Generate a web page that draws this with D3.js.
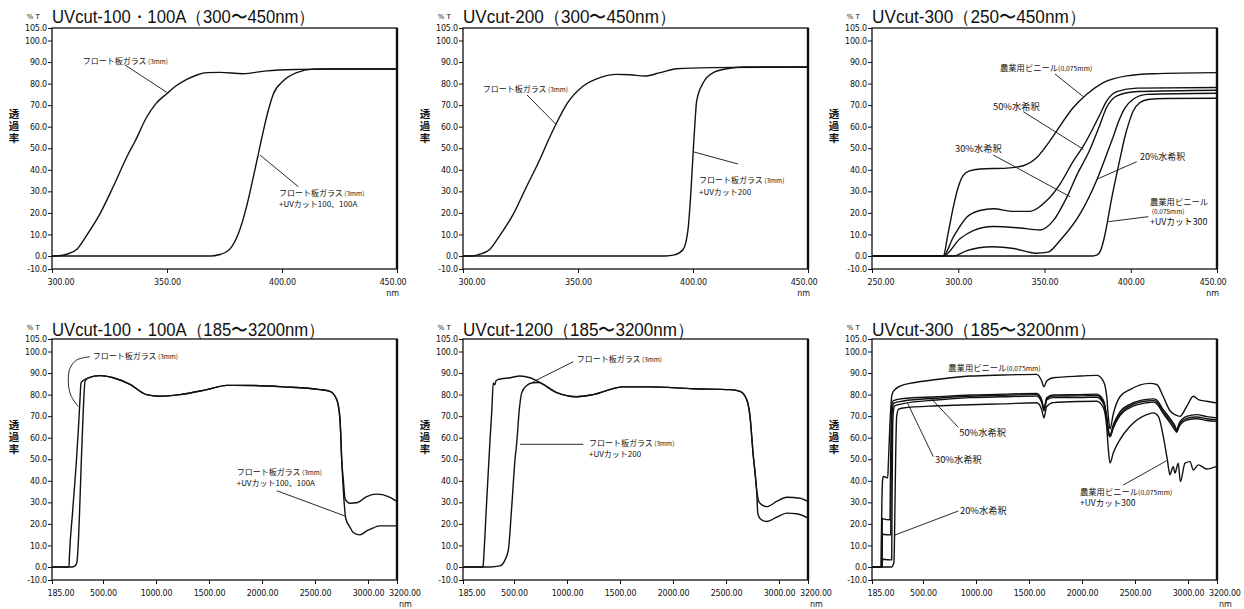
<!DOCTYPE html>
<html><head><meta charset="utf-8">
<script src="https://cdn.jsdelivr.net/npm/d3@7"></script>
<style>
body{margin:0;background:#fff;}
svg{display:block;}
</style></head><body>
<svg id="chart" width="1244" height="609"></svg>
<script>
// ---------------- DATA ----------------
const titles = [
  "UVcut-100・100A（300〜450nm）",
  "UVcut-200（300〜450nm）",
  "UVcut-300（250〜450nm）",
  "UVcut-100・100A（185〜3200nm）",
  "UVcut-1200（185〜3200nm）",
  "UVcut-300（185〜3200nm）"
];
const yTicks = [105,100,90,80,70,60,50,40,30,20,10,0,-10];
const xTicks300 = [300,350,400,450];
const xTicks250 = [250,300,350,400,450];
const xTicksWide = [185,500,1000,1500,2000,2500,3000,3200];

// Panel 1: UVcut-100/100A 300-450nm
const p1Float = [[300,0],[303,0.1],[306.4,0.8],[310.7,3],[315,9.5],[320.9,19.7],[326.5,31.9],[333,47],[336,53],[341.2,64.5],[345,70.5],[349.9,75.3],[354,79],[358.6,82],[363,84],[367.3,85.1],[373,85.2],[383,84.6],[393.3,85.9],[407.8,86.6],[420,86.8],[450,86.8]];
const p1UV = [[300,0],[368.7,0],[373,0.7],[377.4,3.3],[381,10.3],[384.7,23.4],[387.5,36.5],[389.7,47.3],[391.9,58.1],[394,67.4],[396.2,75.1],[400.6,81.3],[406.4,85.1],[413.6,86.7],[420,86.8],[450,86.8]];

// Panel 2: UVcut-200 300-450nm
const p2Float = [[300,0],[304,0],[307,0.7],[311.5,2.9],[316,9.5],[322,19.7],[327.5,31.9],[333.5,45],[337,53.5],[340.3,60.9],[345.1,70.5],[352.3,78.9],[359.6,82.8],[366.8,84.3],[372.6,84.1],[379.1,83.5],[385.7,85.1],[392.9,86.9],[407.4,87.4],[450,87.7]];
const p2UV = [[300,0],[388,0],[392,0.5],[395.7,3],[397.8,12],[399.1,30],[400.1,48.8],[400.9,62.7],[401.6,72],[404.5,80.5],[408.8,85.1],[414.7,86.9],[421.9,87.7],[450,87.7]];

// Panel 3: UVcut-300 250-450nm
const p3Vinyl = [[250,0],[291.3,0],[294,10],[297.1,22.6],[300,32],[303,37.5],[306.5,39.5],[312.6,40.4],[328.1,40.8],[337.7,41.9],[345.5,45.7],[353.2,53.5],[357.1,58.1],[366.7,68.9],[374.5,75.1],[384.1,80.5],[397.7,83.6],[413.1,84.6],[450,85.1]];
const p3Dil50 = [[250,0],[291.3,0],[297.1,8.7],[304.9,18],[312.6,21.1],[320.3,21.9],[331.9,20.7],[341.6,20.7],[351.3,25.7],[359,33.4],[366.7,44],[372.5,51],[376.4,56.6],[382.2,65.8],[386.1,72],[391.9,76.3],[403.5,77.9],[450,78.2]];
const p3Dil30 = [[250,0],[291.3,0],[301,8],[308.7,11.8],[320.3,13.7],[335.8,13],[347.4,12.1],[355.1,16.4],[362.9,27.2],[369,38],[376,48.8],[381.5,59.6],[386,68.9],[392,74.3],[404,76.3],[450,76.9]];
const p3Dil20 = [[250,0],[297,0],[305,2.5],[312,3.8],[320,4.3],[332,3.5],[345,1.3],[352,1.8],[359,7.2],[370.6,19.5],[380.3,35.3],[386.1,47.3],[389.9,55.5],[393,62.5],[396.5,68.5],[401,72.5],[409.3,75],[450,75.5]];
const p3UV = [[250,0],[378,0],[380.5,0.5],[382.5,2.5],[384.5,8],[389,27],[394,46],[396.5,55],[399,62],[401.5,67.4],[405,71],[410,72.6],[420,73.1],[450,73.2]];

// Panel 4: UVcut-100/100A 185-3200nm
const p4Float = [[185,0],[290,0],[292,4],[311.7,25],[336.4,50],[348.8,65],[358,78],[364.2,85.4],[376.6,86.5],[389,87],[409.3,87.8],[481.5,88.8],[597,87.8],[755,84.7],[912,80],[1038,79.2],[1226,80],[1478,82.3],[1667,84.3],[1918,84.2],[2201,83.6],[2547,82.3],[2641,81.5],[2705,77.7],[2736,68.4],[2752,49.8],[2767,40.5],[2785,31.5],[2830,29.6],[2893,29.8],[2988,32.7],[3060,33.8],[3140,32.7],[3200,30.4]];
const p4UV = [[185,0],[306.7,0],[327,0.5],[337.6,1.7],[343.8,6.4],[368.5,54],[378.4,73],[389,86.2],[409.3,87.8],[481.5,88.8],[597,87.8],[755,84.7],[912,80],[1038,79.2],[1226,80],[1478,82.3],[1667,84.3],[1918,84.2],[2201,83.6],[2547,82.3],[2641,81.5],[2705,77.7],[2736,68.4],[2752,49.8],[2775,30],[2790,22.5],[2830,18.5],[2861,16],[2924,14.9],[2988,16.8],[3014,17.5],[3083,19.1],[3200,19.1]];

// Panel 5: UVcut-1200 185-3200nm
const p5Float = [[185,0],[309,0],[311,2],[331,30],[351.9,59],[362.4,72],[372.3,85.4],[380,84.5],[390,86.5],[403.2,87],[475.5,87.8],[556.6,88.6],[651,87.8],[776.4,84.7],[902.8,80.9],[1091.5,79],[1248,80],[1531,83.6],[1783,83.6],[2191.5,82.7],[2537.7,82.3],[2632,81.5],[2695,77.7],[2726.4,69.9],[2757.5,51.5],[2773.5,44],[2789.5,35.8],[2805,31],[2820.7,29.6],[2883.9,28],[2978.3,30.4],[3053,32.4],[3145,31.9],[3200,30.4]];
const p5UV = [[185,0],[351.9,0],[413.7,0.5],[444.6,3.3],[465,7.9],[486,28],[509.4,49.8],[525.5,57.5],[550,73],[572.6,80.8],[619.8,84.2],[680,85.5],[740,85.6],[776.4,84.7],[902.8,80.9],[1091.5,79],[1248,80],[1531,83.6],[1783,83.6],[2191.5,82.7],[2537.7,82.3],[2632,81.5],[2695,77.7],[2726.4,69.9],[2757.5,51.5],[2773.5,44],[2789.5,35],[2800,25],[2820.7,22.5],[2883.9,21.1],[2978.3,23.1],[3053,25],[3122,24.7],[3200,22.7]];

// Panel 6: UVcut-300 185-3200nm
const p6Vinyl = [[185,0],[240,0],[242,10],[246,30],[250,40],[254.8,42],[282,41.3],[286,48],[295,65],[303,76],[306.7,79.2],[316.6,81.5],[358,83.9],[440,85.5],[629,87],[943,88.6],[1258,89.1],[1573,89.4],[1620,86.3],[1641,83.6],[1667,86.3],[1729,87.8],[1981,88.6],[2139,88.9],[2201,86.3],[2233,79.3],[2248,70],[2264,64],[2295,71],[2358,79],[2453,82.3],[2550,84.5],[2641,85.2],[2705,84.7],[2767,79],[2830,72.5],[2877,70.7],[2924,69.9],[2988,74.5],[3037,79.2],[3071,77.7],[3129,76.9],[3200,76.1]];
const p6Dil50 = [[185,0],[246,0],[248.7,22.6],[254,22.3],[296.2,21.9],[298,35],[302,60],[306,74],[316.6,77.2],[378,78.2],[629,79],[943,79.8],[1258,80.2],[1573,80.5],[1620,77.5],[1641,73.5],[1667,78.5],[1729,79.8],[1981,80],[2139,80.2],[2201,77.5],[2233,70],[2248,64],[2264,61],[2295,66],[2358,72],[2453,75.5],[2610,77.8],[2672,78],[2705,77.5],[2767,73],[2830,69],[2877,65.5],[2893,63.7],[2917,66.8],[2988,69.9],[3060,70.7],[3129,69.8],[3200,69.2]];
const p6Dil30 = [[185,0],[247,0],[249.5,15.6],[254,15.2],[300.6,14.9],[302.5,35],[306,60],[310,72.5],[320,76],[378,77],[629,78.3],[943,79.2],[1258,79.7],[1573,80],[1620,77],[1641,73],[1667,78],[1729,79.3],[1981,79.4],[2139,79.6],[2201,76.8],[2233,69],[2248,63],[2264,60.6],[2295,65],[2358,71],[2453,74.8],[2610,77],[2672,77.2],[2705,76.6],[2767,72],[2830,68],[2877,64.5],[2893,63],[2917,66],[2988,69],[3060,69.6],[3129,68.8],[3200,68.4]];
const p6Dil20 = [[185,0],[248,0],[250,3.9],[254,3.6],[306.7,3.3],[309,30],[312,60],[316,71.5],[325,74.8],[378,75.8],[629,77.5],[943,78.6],[1258,79],[1573,79.3],[1620,76.3],[1641,72.5],[1667,77.5],[1729,78.6],[1981,78.6],[2139,78.8],[2201,76],[2233,68.5],[2248,62.5],[2264,60.4],[2295,64.5],[2358,70.3],[2453,74],[2610,76.2],[2672,76.5],[2705,75.8],[2767,71.2],[2830,67],[2877,63.5],[2893,62.5],[2917,65.2],[2988,68.2],[3060,68.8],[3129,68],[3200,67.6]];
const p6UV = [[185,0],[306.7,0],[316,1],[321,3],[327.1,30],[332,55],[337.6,70],[350,73.3],[378,73.8],[629,74.8],[943,75.3],[1258,75.7],[1573,76.2],[1620,73],[1641,69.2],[1667,74.5],[1729,76.3],[1981,76.8],[2139,76.9],[2201,74],[2233,65],[2248,55],[2264,48.2],[2295,52.9],[2358,59.1],[2453,65.3],[2610,70.7],[2672,71.5],[2720,69.9],[2767,60.6],[2805,49.8],[2830,42.8],[2846,45],[2861,46.7],[2877,43.6],[2908,48.2],[2928,39.7],[2972,48.2],[3014,48.9],[3037,45],[3071,47.4],[3129,45.5],[3200,46.7]];

// Annotation texts
const txtFloat = [["フロート板ガラス",8],[" (3mm)",6.5]];
const txtVinyl = [["農業用ビニール",8.3],["(0.075mm)",6.8]];
const yLabel = "透過率";

// ---------------- LAYOUT ----------------
const PW = 345, PH = 241;
const FONT_NUM = "'DejaVu Sans', sans-serif";
const FONT_JP = "'Noto Sans CJK JP', 'Noto Sans CJK SC', sans-serif";
const INK = "#111";

const panels = [
  {L:52, T:28, title:titles[0], titleW:263, titleY:-5, wide:false, xDomain:[300,450], xTicks:xTicks300,
   series:[p1Float,p1UV],
   labels:[{dx:30.7,dy:35.5,parts:txtFloat},{dx:227,dy:167.5,parts:txtFloat},{dx:227,dy:179,parts:[["+UVカット100、100A",8]]}],
   leaders:[[[73,37],[114.7,64.3]],[[208,127],[246.3,158.7]]]},
  {L:463, T:28, title:titles[1], titleW:213, titleY:-5, wide:false, xDomain:[300,450], xTicks:xTicks300,
   series:[p2Float,p2UV],
   labels:[{dx:19.7,dy:64,parts:txtFloat},{dx:236,dy:155,parts:txtFloat},{dx:236,dy:167,parts:[["+UVカット200",8]]}],
   leaders:[[[64,67],[92.7,96]],[[231,124],[275,136]]]},
  {L:872, T:28, title:titles[2], titleW:214, titleY:-5, wide:false, xDomain:[250,450], xTicks:xTicks250,
   series:[p3Vinyl,p3Dil50,p3Dil30,p3Dil20,p3UV],
   labels:[{dx:128,dy:42.5,parts:txtVinyl},{dx:121,dy:81.5,parts:[["50%水希釈",9.3]]},{dx:83,dy:123.8,parts:[["30%水希釈",9.3]]},
           {dx:268,dy:132,parts:[["20%水希釈",9]]},{dx:278,dy:176.5,parts:[["農業用ビニール",8.3]]},{dx:279.7,dy:185.5,parts:[["(0.075mm)",6.5]]},
           {dx:278,dy:196.5,parts:[["+UVカット300",8.8]]}],
   leaders:[[[183,46],[211.3,68.7]],[[151.3,83.7],[211.3,121.3]],[[121.3,127],[198,168.7]],[[264.7,133.7],[224.7,151.3]],[[276.3,188.7],[236.3,193.7]]]},
  {L:52, T:339, title:titles[3], titleW:273, titleY:-3, wide:true, xTicks:xTicksWide,
   series:[p4Float,p4UV],
   labels:[{dx:40.7,dy:19.8,parts:txtFloat},{dx:184.7,dy:136,parts:txtFloat},{dx:184.7,dy:147,parts:[["+UVカット100、100A",8]]}],
   leaders:[[[38,17.7],[24.7,21],[18,29.3],[16.3,42.7],[18.7,56],[26.3,67.7]],[[224.7,151.7],[293,177]]]},
  {L:463, T:339, title:titles[4], titleW:231, titleY:-3, wide:true, xTicks:xTicksWide,
   series:[p5Float,p5UV],
   labels:[{dx:113.7,dy:23,parts:txtFloat},{dx:126,dy:107,parts:txtFloat},{dx:126,dy:118,parts:[["+UVカット200",8]]}],
   leaders:[[[110.3,22.7],[70.3,42.7]],[[57,105.3],[120.3,105.3]]]},
  {L:872, T:339, title:titles[5], titleW:224, titleY:-3, wide:true, xTicks:xTicksWide,
   series:[p6Vinyl,p6Dil50,p6Dil30,p6Dil20,p6UV],
   labels:[{dx:76.3,dy:32,parts:txtVinyl},{dx:87.3,dy:97,parts:[["50%水希釈",9.3]]},{dx:63,dy:124.3,parts:[["30%水希釈",9.3]]},
           {dx:88,dy:175.3,parts:[["20%水希釈",9.3]]},{dx:208,dy:155.5,parts:txtVinyl},{dx:208,dy:166.5,parts:[["+UVカット300",8.5]]}],
   leaders:[[[58,58.3],[86.3,88.3]],[[35.3,63.7],[61.3,117.7]],[[86.3,172],[23,196]],[[251.3,146],[294.7,121.7]]]}
];

const svg = d3.select("#chart");
svg.append("rect").attr("width",1244).attr("height",609).attr("fill","#fff");

panels.forEach((p,i)=>{
  const g = svg.append("g").attr("transform",`translate(${p.L},${p.T})`);
  const x = p.wide
    ? d3.scaleLinear().domain([185,500,3000,3200]).range([0,51,316,PW])
    : d3.scaleLinear().domain(p.xDomain).range([0,PW]);
  const y = d3.scaleLinear().domain([-10,0,100,105]).range([PH,PH-13,12.5,0]);

  const cid = "clip"+i;
  g.append("clipPath").attr("id",cid).append("rect").attr("x",0).attr("y",0).attr("width",PW).attr("height",PH);

  // Y axis
  const ya = g.append("g").call(d3.axisLeft(y).tickValues(yTicks).tickSize(4).tickPadding(1).tickFormat(d=>d.toFixed(1)));
  ya.select(".domain").remove();
  ya.attr("font-family",FONT_NUM).attr("font-size",8);
  ya.selectAll("text").attr("fill",INK).attr("letter-spacing",-0.2);
  ya.selectAll("line").attr("stroke",INK).attr("stroke-width",1);

  // X axis
  const xa = g.append("g").attr("transform",`translate(0,${PH})`)
    .call(d3.axisBottom(x).tickValues(p.xTicks).tickSize(4).tickPadding(6).tickFormat(d=>d.toFixed(2)));
  xa.select(".domain").remove();
  xa.attr("font-family",FONT_NUM).attr("font-size",8);
  xa.selectAll("text").attr("fill",INK).attr("letter-spacing",-0.2);
  xa.selectAll("line").attr("stroke",INK).attr("stroke-width",1);
  const xt = xa.selectAll("text");
  const nT = xt.size();
  xt.each(function(d,k){
    const t = d3.select(this);
    if(k===0){ t.attr("text-anchor","start").attr("x",-5); }
    if(k===nT-1){
      if(p.wide) t.attr("text-anchor","start").attr("x",-8.5);
      else t.attr("text-anchor","end").attr("x",9);
    }
  });
  g.append("text").attr("x",PW+2).attr("y",PH+(p.wide?26.5:27))
    .attr("text-anchor",p.wide?"start":"end").attr("font-family",FONT_NUM).attr("font-size",8).attr("fill",INK).text("nm");

  // curves
  const line = d3.line().x(d=>x(d[0])).y(d=>y(d[1])).curve(d3.curveMonotoneX);
  g.append("g").attr("clip-path",`url(#${cid})`).selectAll("path").data(p.series).join("path")
    .attr("d",line).attr("fill","none").attr("stroke",INK).attr("stroke-width",1.4).attr("stroke-linejoin","round");

  // frame
  g.append("rect").attr("width",PW).attr("height",PH).attr("fill","none").attr("stroke",INK).attr("stroke-width",1.3);
  g.append("line").attr("x1",PW).attr("x2",PW).attr("y1",0).attr("y2",PH).attr("stroke",INK).attr("stroke-width",2.4);

  // titles
  g.append("text").attr("x",-25.3).attr("y",-9.3).attr("font-family",FONT_NUM).attr("font-size",7).attr("fill",INK).text("% T");
  g.append("text").attr("x",0).attr("y",p.titleY).attr("font-family","'Liberation Sans', Arial, sans-serif")
    .attr("font-size",18).attr("fill",INK).attr("textLength",p.titleW).attr("lengthAdjust","spacingAndGlyphs").text(p.title);

  // y label (vertical writing)
  g.append("text").attr("x",-38).attr("y",81).attr("writing-mode","vertical-rl")
    .attr("font-family",FONT_JP).attr("font-weight","bold").attr("font-size",10.5).attr("letter-spacing",1.2)
    .attr("fill",INK).text(yLabel);

  // leaders
  p.leaders.forEach(pts=>{
    const lg = d3.line().curve(pts.length>2?d3.curveCatmullRom:d3.curveLinear);
    g.append("path").attr("d",lg(pts)).attr("fill","none").attr("stroke",INK).attr("stroke-width",0.9);
  });

  // labels
  p.labels.forEach(lb=>{
    const t = g.append("text").attr("x",lb.dx).attr("y",lb.dy).attr("font-family",FONT_JP).attr("fill",INK);
    lb.parts.forEach(pt=>{ t.append("tspan").attr("font-size",pt[1]).text(pt[0]); });
  });
});
</script>
</body></html>
